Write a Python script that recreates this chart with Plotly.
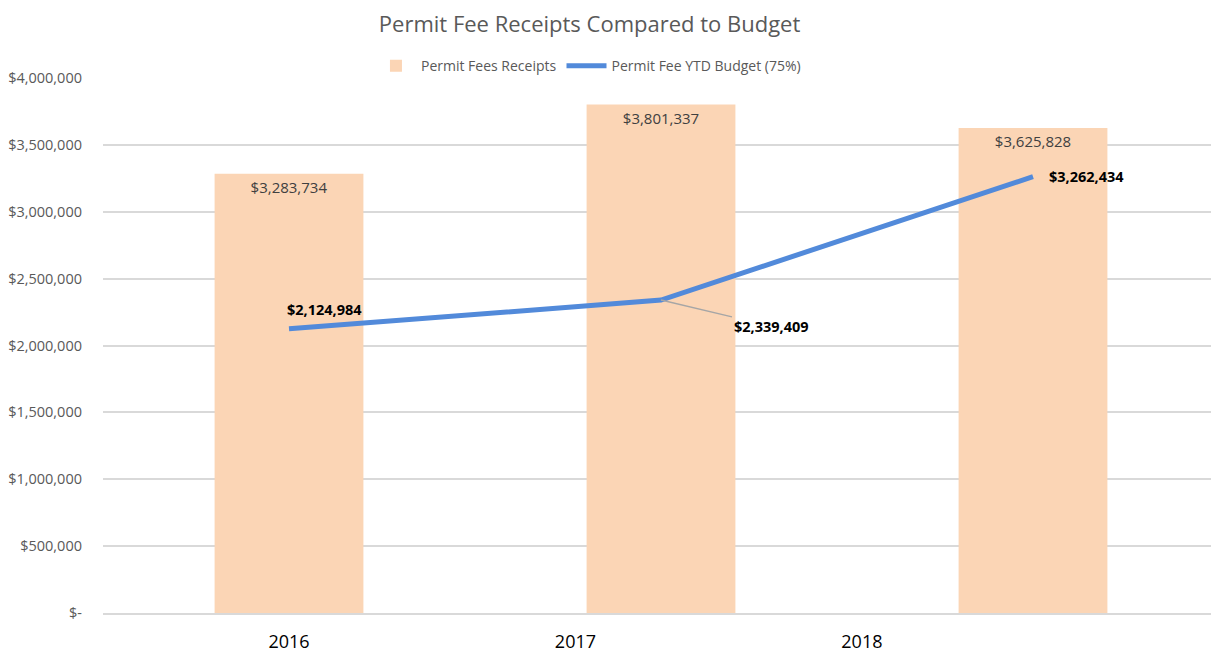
import plotly.graph_objects as go

years = ["2016", "2017", "2018"]
receipts = [3283734, 3801337, 3625828]
budget = [2124984, 2339409, 3262434]
year_label_pos = [0, 0.77, 1.54]
ytick_vals = [0, 500000, 1000000, 1500000, 2000000, 2500000, 3000000, 3500000, 4000000]
ytick_text = ["$-", "$500,000", "$1,000,000", "$1,500,000", "$2,000,000",
              "$2,500,000", "$3,000,000", "$3,500,000", "$4,000,000"]

FONT = "Open Sans, sans-serif"
xs = list(range(len(years)))

fig = go.Figure()
fig.add_trace(go.Bar(
    x=xs, y=receipts, name="Permit Fees Receipts", width=0.4,
    marker=dict(color="#FBD5B5", line=dict(width=0)),
    text=[f"${v:,.0f}" for v in receipts], textposition="inside",
    insidetextanchor="end", textangle=0,
    textfont=dict(family=FONT, size=15, color="#404040"),
    cliponaxis=False,
))
fig.add_trace(go.Scatter(
    x=xs, y=budget, name="Permit Fee YTD Budget (75%)", mode="lines",
    line=dict(color="#528ADA", width=5),
))

lab = [f"${v:,.0f}" for v in budget]
fig.add_annotation(x=xs[0], y=budget[0], text=f"<b>{lab[0]}</b>", showarrow=False,
                   xanchor="left", yanchor="bottom", xshift=-4, yshift=8,
                   font=dict(family=FONT, size=14.5, color="#000000"))
fig.add_annotation(x=xs[1], y=budget[1], text=f"<b>{lab[1]}</b>", showarrow=True,
                   arrowhead=0, arrowwidth=1.5, arrowcolor="#A6A6A6", ax=110, ay=26,
                   font=dict(family=FONT, size=14.5, color="#000000"))
fig.add_annotation(x=xs[2], y=budget[2], text=f"<b>{lab[2]}</b>", showarrow=False,
                   xanchor="left", yanchor="middle", xshift=14, yshift=0,
                   font=dict(family=FONT, size=14.5, color="#000000"))

fig.update_layout(
    width=1211, height=645,
    margin=dict(l=95, r=0, t=70, b=40),
    paper_bgcolor="white", plot_bgcolor="white",
    font=dict(family=FONT, color="#595959"),
    title=dict(text="Permit Fee Receipts Compared to Budget", x=0.436, xref="paper",
               xanchor="center", y=0.975, yanchor="middle",
               font=dict(family=FONT, size=22, color="#595959")),
    legend=dict(orientation="h", x=0.435, xanchor="center", y=1.022, yanchor="middle",
                font=dict(family=FONT, size=14, color="#595959"),
                bgcolor="rgba(0,0,0,0)", itemwidth=40, tracegroupgap=0),
    showlegend=True,
    bargap=0.6,
)
fig.update_xaxes(range=[-0.5, 2.5], tickvals=year_label_pos, ticktext=years,
                 tickfont=dict(family=FONT, size=18, color="#000000"),
                 showgrid=False, zeroline=False, showline=True, linecolor="#D9D9D9",
                 linewidth=1.5, ticks="", ticklabelstandoff=12, fixedrange=True)
fig.update_yaxes(range=[0, 4000000], tickvals=ytick_vals, ticktext=ytick_text,
                 tickfont=dict(family=FONT, size=14.5, color="#595959"),
                 showgrid=True, gridcolor="#D9D9D9", gridwidth=1.5, zeroline=False,
                 showline=False, ticks="", ticklabelstandoff=20, fixedrange=True)

fig.write_html("out.html")
